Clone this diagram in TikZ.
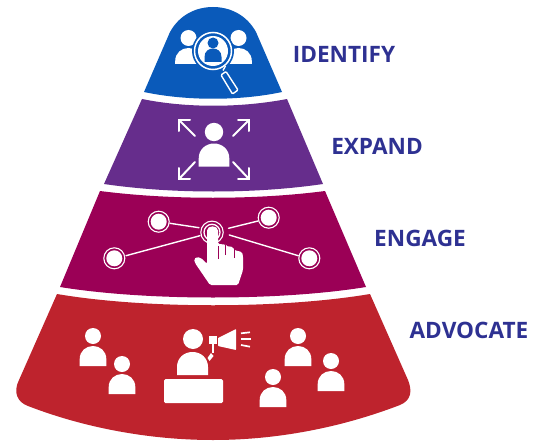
\documentclass[tikz,border=0pt]{standalone}
\usepackage{fontspec}
\setmainfont{Open Sans}
\definecolor{cblue}{HTML}{0A5ABA}
\definecolor{cpurple}{HTML}{662D8C}
\definecolor{cmag}{HTML}{9B0056}
\definecolor{cred}{HTML}{BE232D}
\definecolor{ctext}{HTML}{2E3192}
\tikzset{
  lab/.style={font=\bfseries\fontsize{22.6}{26}\selectfont,text=ctext,anchor=center,inner sep=0pt},
  wl/.style={draw=white,line width=1.4pt,line cap=round},
  arrowline/.style={draw=white,line width=2pt,line cap=round,line join=miter},
}
\newcommand{\person}[3]{% x y scale: head at (x,y)
  \fill[white] (#1,#2) circle ({8*#3});
  \fill[white] ({#1-13.3*#3},{#2+30*#3}) -- ({#1-13.3*#3},{#2+23*#3})
    .. controls ({#1-13.3*#3},{#2+15*#3}) and ({#1-7*#3},{#2+10*#3}) .. (#1,{#2+10*#3})
    .. controls ({#1+7*#3},{#2+10*#3}) and ({#1+13.3*#3},{#2+15*#3}) .. ({#1+13.3*#3},{#2+23*#3})
    -- ({#1+13.3*#3},{#2+30*#3}) -- cycle;
}
\begin{document}
\begin{tikzpicture}[x=1pt,y=-1pt]
\useasboundingbox (0,0) rectangle (537,441);
% bands
\fill[cblue] (144,92) -- (170,32) .. controls (180,14) and (197,7) .. (213,7)
  .. controls (229,7) and (246,14) .. (256,32) -- (282,92)
  .. controls (240,101) and (186,101) .. (144,92) -- cycle;
\fill[cpurple] (142,99) .. controls (186,108) and (240,108) .. (287,99)
  -- (323,184) .. controls (255,194) and (172,194) .. (104,184) -- cycle;
\fill[cmag] (100,191) .. controls (170,200) and (256,200) .. (325,191)
  -- (366,287) .. controls (280,301) and (146,301) .. (60,287) -- cycle;
\fill[cred] (57,294) .. controls (145,309) and (281,309) .. (370,294)
  -- (408,380) .. controls (412,390) and (412,400) .. (400,405)
  .. controls (340,428) and (276,440) .. (213,440)
  .. controls (150,440) and (85,428) .. (28,406)
  .. controls (17,402) and (13,392) .. (19,380) -- cycle;
% identify icon
\person{188.5}{38}{1.0}
\person{238.5}{38}{1.0}
\fill[cblue] (172,64) rectangle (256,70);
\fill[cblue] (213,51) circle (21);
\draw[white,line width=1.5pt] (213,51) circle (18.5);
\fill[white] (213,51) circle (15);
\fill[cblue] (213,43) circle (5.5);
\fill[cblue] (204.5,62) -- (204.5,57) .. controls (204.5,51) and (209,48.5) .. (213,48.5) .. controls (217,48.5) and (221.5,51) .. (221.5,57) -- (221.5,62) -- cycle;
\draw[white,line width=1.4pt] (225.5,66) -- (223,70.5);
\draw[white,line width=1.4pt,rounded corners=1pt] (221,75) -- (226,71.5) -- (238,90) -- (232.5,94) -- cycle;
% expand icon
\person{214}{132}{1.15}
\draw[arrowline] (195,136) -- (179,120);
\draw[arrowline] (233,136) -- (249,120);
\draw[arrowline] (195,162) -- (179,179);
\draw[arrowline] (233,162) -- (249,179);
\draw[arrowline] (179,131) -- (179,120) -- (190,120);
\draw[arrowline] (238,120) -- (249,120) -- (249,131);
\draw[arrowline] (179,168) -- (179,179) -- (190,179);
\draw[arrowline] (238,179) -- (249,179) -- (249,168);
% engage icon
\foreach \x/\y in {158.7/221.7, 268.7/217.7, 114.3/258.3, 309.3/258.3}{
  \draw[white,line width=1.1pt] (\x,\y) circle (10.5);
  \fill[white] (\x,\y) circle (8);
}
\draw[white,line width=1.1pt] (212,232.3) circle (11.2);
\draw[white,line width=1.3pt] (212,232.3) circle (8);
\draw[wl] (170,223.3) -- (199,227.7);
\draw[wl] (228.5,228.3) -- (258,221);
\draw[wl] (126,255.7) -- (200,235.7);
\draw[wl] (229.3,235) -- (298.3,255.7);
\fill[white,rounded corners=1.5pt] (210,285) -- (195,263) -- (194,259) -- (197,257) -- (201,258) -- (207,264)
  -- (207,232) .. controls (207,225) and (218,225) .. (218,232) -- (218,244) -- (225.5,244.5) -- (226,246)
  -- (233,247) -- (234,250) -- (242,252) -- (243,256) -- (243,270) -- (238,285) -- cycle;
\draw[cmag,line width=0.8pt] (218,259) -- (218,246);
\draw[cmag,line width=0.8pt] (225.5,255) -- (225.5,245);
\draw[cmag,line width=0.8pt] (234,258) -- (234,249);
% advocate icon
\person{93}{336}{1.0}
\person{122}{364}{1.0}
\person{298}{336}{1.0}
\person{273}{377}{1.0}
\person{331}{361}{1.0}
\fill[white] (193,339) circle (10);
\fill[white] (177,375) -- (177,367) .. controls (177,358) and (184,352) .. (192.5,352) .. controls (201,352) and (208,358) .. (208,367) -- (208,375) -- cycle;
\fill[white,rounded corners=1.5pt] (164,379) rectangle (223,403);
\fill[white,rounded corners=0.6pt] (218,338) -- (236,329) -- (236,350) -- (218,346) -- cycle;
\fill[white] (209.3,336) rectangle (216.7,344);
\fill[white] (212,344) rectangle (214.4,352.7);
\fill[white] (211,353) -- (213.5,356) -- (209.5,361) -- (207.5,358) -- cycle;
\draw[white,line width=1.7pt] (241,333.3) -- (250,332.3);
\draw[white,line width=1.7pt] (241,339.3) -- (251,339.3);
\draw[white,line width=1.7pt] (241,345) -- (250,346.7);
% labels
\node[lab] (n1) at (344,54) {IDENTIFY};
\node[lab] (n2) at (377,146) {EXPAND};
\node[lab] (n3) at (420,238) {ENGAGE};
\node[lab] (n4) at (469,330) {ADVOCATE};
\end{tikzpicture}
\end{document}
